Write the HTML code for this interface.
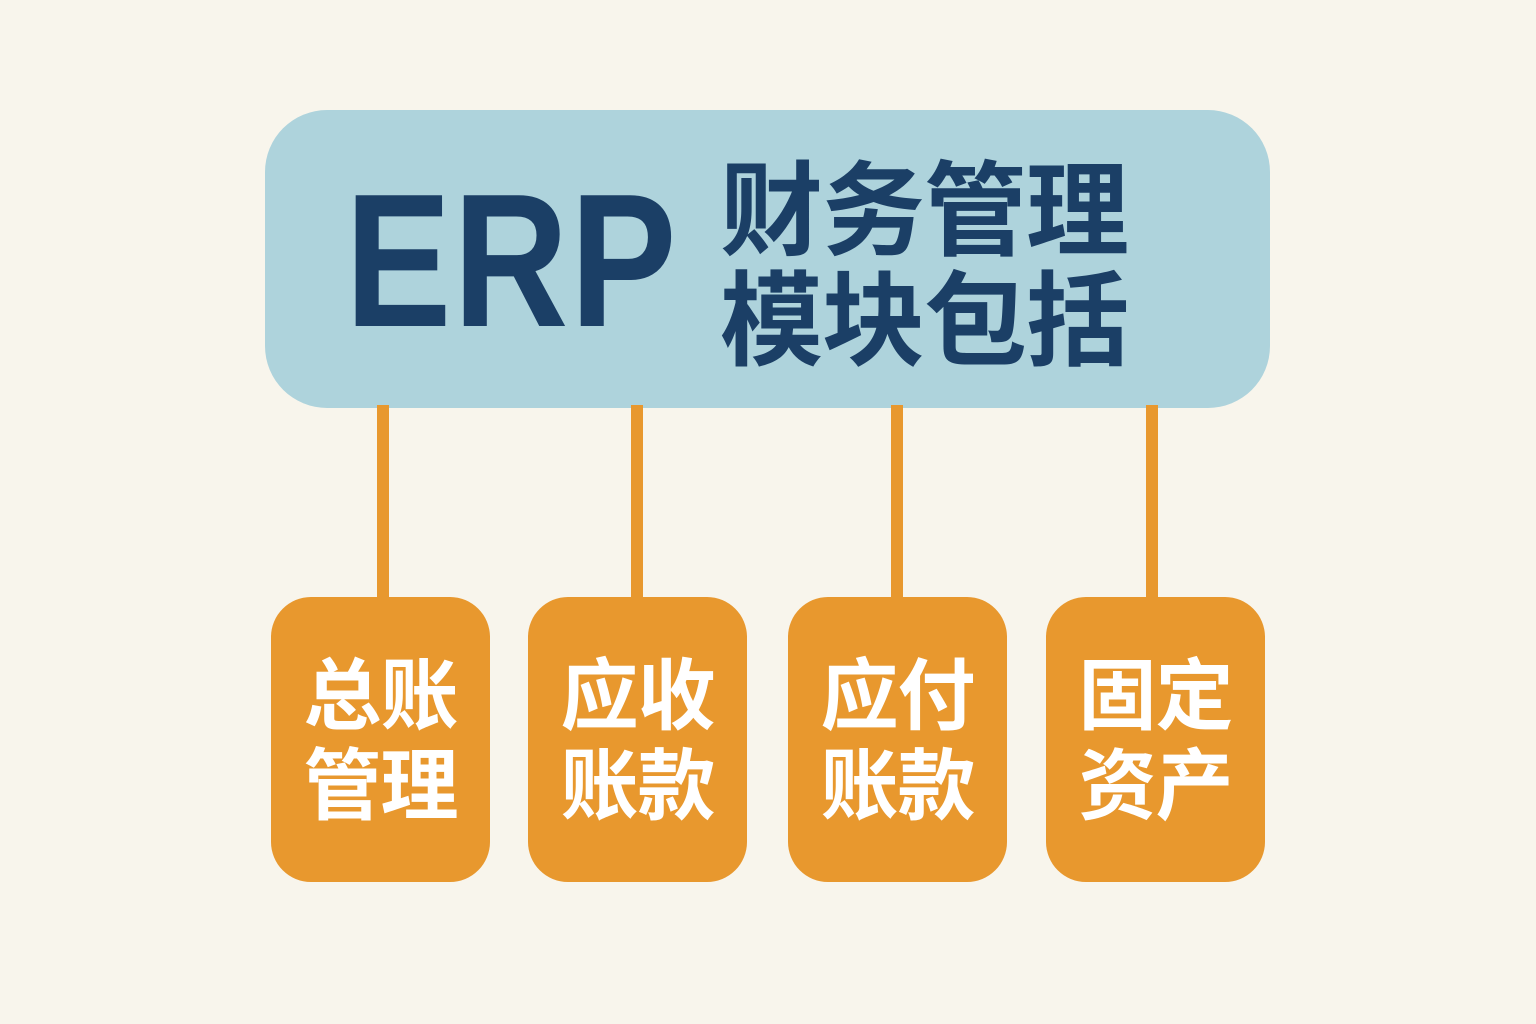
<!DOCTYPE html>
<html><head><meta charset="utf-8"><style>
html,body{margin:0;padding:0}
body{width:1536px;height:1024px;background:#f8f5ec;position:relative;overflow:hidden;font-family:"Liberation Sans","Noto Sans CJK SC",sans-serif}
.top{position:absolute;left:265px;top:110px;width:1005px;height:298px;background:#aed3dc;border-radius:62px}
.erp{position:absolute;left:345px;top:166px;font-size:190px;font-weight:bold;color:#1b3f66;line-height:190px;letter-spacing:2px;transform:scaleX(0.84);transform-origin:0 0;white-space:nowrap}
.cn{position:absolute;left:720px;top:148px;font-size:103px;font-weight:700;color:#1b3f66;line-height:110px;letter-spacing:-1px;font-family:"Noto Sans CJK SC",sans-serif}
.ln{position:absolute;top:405px;width:12px;height:195px;background:#e8982e}
.b{position:absolute;top:597px;width:219px;height:285px;background:#e8982e;border-radius:40px;color:#fff;font-family:"Noto Sans CJK SC",sans-serif;font-weight:700;font-size:78px;line-height:90px;text-align:center;box-sizing:border-box;padding-top:48px;letter-spacing:-1px}
</style></head><body>
<div class="top"></div>
<div class="erp">ERP</div>
<div class="cn">财务管理<br>模块包括</div>
<div class="ln" style="left:377px"></div>
<div class="ln" style="left:631px"></div>
<div class="ln" style="left:891px"></div>
<div class="ln" style="left:1146px"></div>
<div class="b" style="left:271px">总账<br>管理</div>
<div class="b" style="left:528px">应收<br>账款</div>
<div class="b" style="left:788px">应付<br>账款</div>
<div class="b" style="left:1046px">固定<br>资产</div>
</body></html>
